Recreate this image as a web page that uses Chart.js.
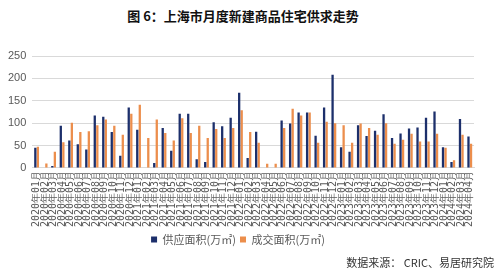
<!DOCTYPE html>
<html>
<head>
<meta charset="utf-8">
<script src="https://cdn.jsdelivr.net/npm/chart.js@4/dist/chart.umd.min.js"></script>
<style>
html,body{margin:0;padding:0;background:#fff;width:498px;height:275px;overflow:hidden;}
#title{position:absolute;top:6px;left:0;width:486px;text-align:center;font:bold 13px "Noto Sans CJK SC";color:#111;}
#c{position:absolute;top:31px;left:0;}
#src{position:absolute;top:254px;right:4px;font:11px "Noto Sans CJK SC";color:#333;}
</style>
</head>
<body>
<div id="title">图 6：上海市月度新建商品住宅供求走势</div>
<canvas id="c" width="498" height="224"></canvas>
<div id="src">数据来源： CRIC、易居研究院</div>
<script>
const years = ["2020","2021","2022","2023","2024"];
const categories = [];
years.forEach(y => {
  const n = y === "2024" ? 4 : 12;
  for (let m = 1; m <= n; m++) categories.push(y + "年" + String(m).padStart(2, "0") + "月");
});
const supplyLabel = "供应面积(万㎡)";
const dealLabel = "成交面积(万㎡)";
const supply = [45,0,4,94,61,53,41,117,114,80,27,135,
                85,0,11,89,38,121,121,19,13,102,93,112,
                168,22,81,0,0,106,99,124,124,72,135,208,
                46,36,95,71,83,120,67,77,88,90,112,126,
                46,13,109,70];
const deal = [47,10,36,57,101,80,82,95,108,94,74,121,
              141,67,108,78,61,111,78,94,67,87,67,89,
              129,80,56,9,9,89,132,117,124,56,103,100,
              95,56,99,89,74,100,54,63,76,59,59,76,
              45,17,74,54];
const yTicks = [0,50,100,150,200,250];

new Chart(document.getElementById("c"), {
  type: "bar",
  data: {
    labels: categories,
    datasets: [
      {label: supplyLabel, data: supply, backgroundColor: "#1C2F6B", categoryPercentage: 0.6, barPercentage: 0.9},
      {label: dealLabel, data: deal, backgroundColor: "#EC8E4C", categoryPercentage: 0.6, barPercentage: 0.9}
    ]
  },
  options: {
    responsive: false,
    animation: false,
    layout: {padding: {left: 2, right: 24, top: 25, bottom: 0}},
    plugins: {
      legend: {
        position: "bottom",
        labels: {boxWidth: 6, boxHeight: 6, padding: 4, color: "#595959", font: {family: "Noto Sans CJK SC", size: 11}}
      },
      tooltip: {enabled: false}
    },
    scales: {
      x: {
        grid: {display: false, drawTicks: false},
        border: {color: "#D9D9D9"},
        ticks: {autoSkip: false, maxRotation: 90, minRotation: 90, color: "#595959", padding: 3,
                font: {family: "DejaVu Sans Mono", size: 10}}
      },
      y: {
        min: 0, max: 250,
        afterBuildTicks: axis => { axis.ticks = yTicks.map(v => ({value: v})); },
        grid: {color: "#D9D9D9", drawTicks: false},
        border: {display: false},
        ticks: {color: "#595959", padding: 6, font: {family: "Liberation Sans", size: 11}}
      }
    }
  }
});
</script>
</body>
</html>
